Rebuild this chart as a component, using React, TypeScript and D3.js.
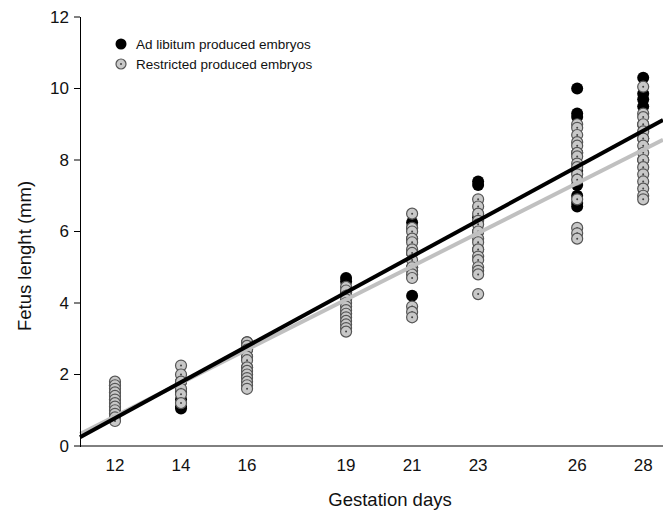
import React from 'react';
import * as d3 from 'd3';

// gestation days on the x axis
const days = [12, 14, 16, 19, 21, 23, 26, 28];

// fetus length (mm) read per day, ad libitum group (black)
const adLibitum = [
  [1.7, 1.5, 1.3, 1.1, 0.9],
  [1.05, 1.1, 1.3, 1.5, 1.8],
  [2.9, 2.7, 2.5, 2.2, 2.0],
  [4.7, 4.6, 4.3, 4.0, 3.7],
  [6.25, 6.1, 5.8, 5.4, 5.0, 4.2],
  [7.4, 7.3, 6.4, 6.0, 5.5],
  [10.0, 9.3, 9.2, 8.2, 7.7, 7.3, 7.0, 6.8, 6.7],
  [10.3, 9.85, 9.7, 9.5, 9.0, 8.6, 8.0]
];

// restricted group (grey)
const restricted = [
  [1.8, 1.7, 1.6, 1.5, 1.4, 1.3, 1.2, 1.1, 1.0, 0.9, 0.8, 0.7],
  [2.25, 2.0, 1.8, 1.6, 1.45, 1.2],
  [2.9, 2.8, 2.7, 2.5, 2.4, 2.2, 2.1, 2.0, 1.9, 1.8, 1.7, 1.6],
  [4.45, 4.35, 4.2, 4.1, 4.0, 3.9, 3.8, 3.7, 3.6, 3.5, 3.4, 3.3, 3.2],
  [6.5, 6.1, 6.0, 5.8, 5.7, 5.5, 5.4, 5.2, 5.0, 4.9, 4.8, 4.7, 3.9, 3.75, 3.6],
  [6.9, 6.7, 6.5, 6.3, 6.2, 6.0, 5.8, 5.7, 5.5, 5.3, 5.2, 5.0, 4.9, 4.8, 4.25],
  [9.0, 8.9, 8.7, 8.5, 8.4, 8.2, 8.1, 7.9, 7.8, 7.6, 7.45, 6.9, 6.1, 5.95, 5.8],
  [10.05, 9.3, 9.2, 9.0, 8.8, 8.6, 8.4, 8.2, 8.0, 7.8, 7.6, 7.4, 7.2, 7.0, 6.9]
];

// fitted regression lines [slope, intercept]
const adLibitumFit = [0.5025, -5.25];
const restrictedFit = [0.466, -4.76];

const yTicks = [0, 2, 4, 6, 8, 10, 12];

export default function App() {
  const W = 663, H = 513;
  const x = d3.scaleLinear().domain([10.94, 28.6]).range([80, 663]);
  const y = d3.scaleLinear().domain([0, 12]).range([446, 17]);
  const font = 'Arial, "Liberation Sans", sans-serif';

  const fitLine = (f: number[]) => {
    const [x0, x1] = x.domain();
    return d3.line<number>().x(d => x(d)).y(d => y(f[0] * d + f[1]))([x0, x1]) || '';
  };

  const blackPts: [number, number][] = [];
  adLibitum.forEach((vals, i) => vals.forEach(v => blackPts.push([days[i], v])));
  const greyPts: [number, number][] = [];
  restricted.forEach((vals, i) => vals.forEach(v => greyPts.push([days[i], v])));

  return (
    <svg width={W} height={H} style={{ position: 'absolute', left: 0, top: 0, background: '#fff' }} fontFamily={font} fill="#111">
      {/* points */}
      {blackPts.map((p, i) => (
        <circle key={'b' + i} cx={x(p[0])} cy={y(p[1])} r={6} fill="#000" />
      ))}
      {greyPts.map((p, i) => (
        <g key={'g' + i}>
          <circle cx={x(p[0])} cy={y(p[1])} r={5.5} fill="#c8c8c8" stroke="#555" strokeWidth={1.2} />
          <circle cx={x(p[0])} cy={y(p[1])} r={1} fill="#444" />
        </g>
      ))}

      {/* regression lines */}
      <path d={fitLine(restrictedFit)} stroke="#c0c0c0" strokeWidth={4} fill="none" />
      <path d={fitLine(adLibitumFit)} stroke="#000" strokeWidth={4} fill="none" />

      {/* axes */}
      <line x1={80} x2={663} y1={446} y2={446} stroke="#000" strokeWidth={1} />
      <line x1={80.5} x2={80.5} y1={17} y2={447} stroke="#000" strokeWidth={1} />
      {yTicks.map(t => (
        <g key={t}>
          <line x1={74} x2={80} y1={y(t)} y2={y(t)} stroke="#000" />
          <text x={69} y={y(t)} dy="0.35em" textAnchor="end" fontSize={17}>{t}</text>
        </g>
      ))}
      {days.map(d => (
        <text key={d} x={x(d)} y={471} textAnchor="middle" fontSize={17}>{d}</text>
      ))}
      <text x={390} y={506} textAnchor="middle" fontSize={18.5}>Gestation days</text>
      <text transform="translate(31,256) rotate(-90)" textAnchor="middle" fontSize={18.5}>Fetus lenght (mm)</text>

      {/* legend */}
      <circle cx={121} cy={44} r={5.5} fill="#000" />
      <text x={136} y={49} fontSize={13.5}>Ad libitum produced embryos</text>
      <circle cx={121} cy={64} r={5} fill="#c8c8c8" stroke="#555" strokeWidth={1.2} />
      <circle cx={121} cy={64} r={1} fill="#444" />
      <text x={136} y={69} fontSize={13.5}>Restricted produced embryos</text>
    </svg>
  );
}
